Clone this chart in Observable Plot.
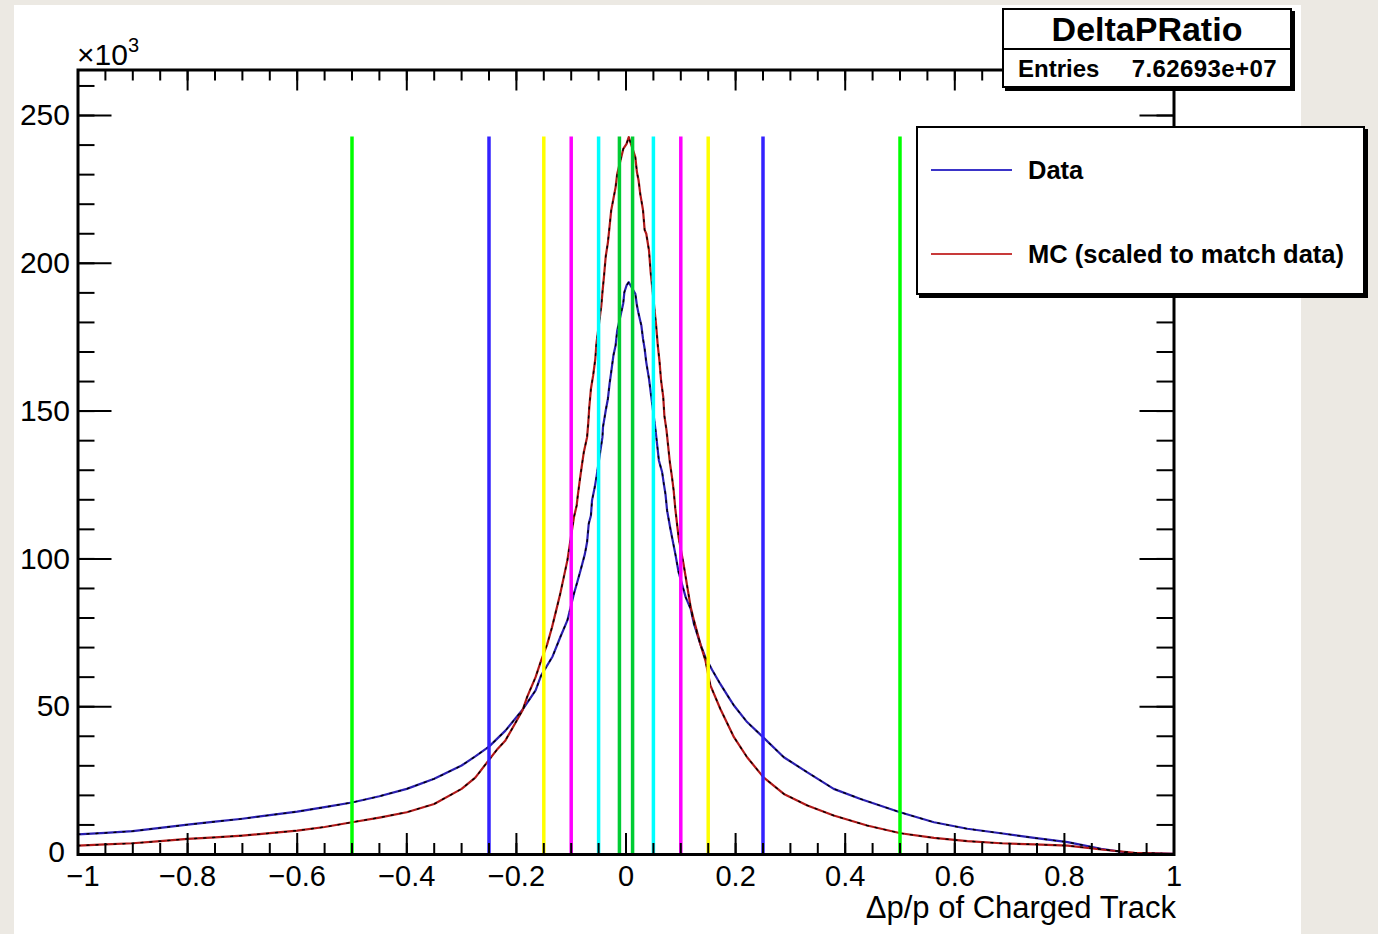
<!DOCTYPE html>
<html><head><meta charset="utf-8">
<script src="https://cdn.jsdelivr.net/npm/d3@7"></script>
<script src="https://cdn.jsdelivr.net/npm/@observablehq/plot@0.6"></script>
<style>
html,body{margin:0;padding:0;overflow:hidden;}
body{width:1378px;height:934px;background:#ece9e3;position:relative;font-family:"Liberation Sans",Arial,sans-serif;color:#000;}
#panel{position:absolute;left:14px;top:5px;width:1287px;height:929px;background:#fff;}
#chart{position:absolute;left:0;top:0;}
#mult{position:absolute;left:77px;top:40px;font-size:30px;line-height:30px;white-space:nowrap;}
#mult span{font-size:20px;position:relative;top:-13px;}
#stats{position:absolute;left:1002px;top:8px;width:286px;height:76px;border:2px solid #000;background:#fff;box-shadow:3px 3px 0 #000;}
#stats .t{height:38px;border-bottom:2px solid #000;font-weight:bold;font-size:34px;line-height:38px;text-align:center;}
#stats .r{height:38px;font-weight:bold;font-size:24px;line-height:38px;position:relative;}
#stats .r .a{position:absolute;left:14px;}
#stats .r .b{position:absolute;right:13px;letter-spacing:0.4px;}
#legend{position:absolute;left:916px;top:126px;width:445px;height:165px;border:2px solid #000;background:#fff;box-shadow:3px 3px 0 #000;}
#legend .e{position:absolute;left:0;height:30px;width:440px;}
#legend .e .l{position:absolute;left:13px;top:14px;width:81px;height:2px;}
#legend .e .x{position:absolute;left:110px;top:0;font-weight:bold;font-size:25.5px;line-height:30px;white-space:nowrap;}
</style></head><body>
<div id="panel"></div>
<div id="chart"></div>
<div id="mult">×10<span>3</span></div>
<div id="stats"><div class="t">DeltaPRatio</div><div class="r"><span class="a">Entries</span><span class="b">7.62693e+07</span></div></div>
<div id="legend"></div>
<script>
// ---- Data (Δp/p, counts in units of 10^3) ----
const dataX = [-1.0,-0.95,-0.9,-0.85,-0.8,-0.75,-0.7,-0.65,-0.6,-0.55,-0.5,-0.45,-0.4,-0.35,-0.3,-0.275,-0.25,-0.22,-0.19,-0.165,-0.155,-0.134,-0.12,-0.107,-0.095,-0.089,-0.083,-0.075,-0.071,-0.068,-0.064,-0.062,-0.057,-0.054,-0.043,-0.042,-0.037,-0.033,-0.03,-0.027,-0.023,-0.019,-0.016,-0.005,-0.003,0.001,0.005,0.017,0.02,0.023,0.028,0.031,0.034,0.037,0.042,0.045,0.054,0.057,0.06,0.066,0.069,0.072,0.075,0.081,0.084,0.09,0.096,0.109,0.118,0.124,0.136,0.145,0.157,0.172,0.188,0.197,0.221,0.25,0.288,0.331,0.379,0.428,0.5,0.562,0.623,0.684,0.745,0.806,0.867,0.916,1.0];
const dataY = [6.8,7.3,7.9,9.0,10.1,11.1,12.1,13.3,14.5,16.0,17.6,19.7,22.2,25.6,30.1,33.2,36.5,41.9,48.7,55.5,60.5,67.0,73.5,79.2,88.2,92.1,96.1,101.7,105.7,111.9,114.7,119.8,124.3,127.6,141.2,144.6,150.2,154.2,159.2,163.2,168.8,172.2,177.3,186.5,190.2,192.5,193.6,189.7,185.7,182.9,179.0,174.5,171.1,166.5,160.9,156.5,143.4,138.4,133.3,129.3,125.4,122.0,116.4,110.2,107.3,101.7,95.5,87.0,83.1,78.0,71.0,66.7,62.5,57.7,53.0,50.4,44.8,39.7,32.9,27.8,22.2,18.8,14.3,10.9,8.7,7.2,5.6,4.2,1.9,0.6,0.2];
const mcX = [-1.0,-0.95,-0.9,-0.85,-0.8,-0.75,-0.7,-0.65,-0.6,-0.55,-0.5,-0.45,-0.4,-0.35,-0.3,-0.275,-0.25,-0.234,-0.22,-0.189,-0.18,-0.165,-0.155,-0.144,-0.135,-0.129,-0.12,-0.107,-0.095,-0.09,-0.088,-0.084,-0.081,-0.077,-0.071,-0.069,-0.067,-0.064,-0.06,-0.056,-0.054,-0.045,-0.043,-0.04,-0.037,-0.033,-0.03,-0.027,-0.023,-0.019,-0.016,-0.005,0.001,0.005,0.017,0.02,0.023,0.026,0.031,0.034,0.037,0.042,0.045,0.055,0.058,0.061,0.064,0.068,0.07,0.074,0.08,0.084,0.087,0.09,0.096,0.105,0.112,0.118,0.124,0.136,0.145,0.154,0.172,0.197,0.221,0.251,0.288,0.331,0.379,0.44,0.501,0.562,0.623,0.684,0.745,0.806,0.867,0.928,1.0];
const mcY = [3.0,3.4,3.8,4.5,5.3,5.8,6.4,7.2,8.1,9.3,10.9,12.5,14.3,17.1,22.2,26.0,32.0,35.8,38.6,48.7,53.5,60.0,65.6,71.0,76.9,81.4,88.2,99.5,114.1,118.1,121.4,127.1,131.0,136.1,141.2,145.7,151.3,157.5,162.0,167.7,172.8,185.7,190.2,195.9,202.3,207.1,212.4,217.9,221.8,225.7,230.3,238.7,240.4,242.7,235.9,230.8,228.0,223.5,218.1,211.3,210.0,204.3,197.0,179.0,172.2,167.1,160.4,154.7,148.5,143.4,132.7,127.6,123.1,116.9,107.3,98.3,90.4,83.7,79.2,71.0,65.6,57.2,49.3,39.7,32.9,26.1,20.5,16.6,13.2,9.8,7.2,5.6,4.5,3.8,3.4,3.0,1.7,0.6,0.2];
const cutX = [-0.5,-0.25,-0.15,-0.1,-0.05,-0.012,0.012,0.05,0.1,0.15,0.25,0.5];
const cutColor = ["#00ff00","#3322ff","#ffff00","#ff00ff","#00ffff","#00cc33","#00cc33","#00ffff","#ff00ff","#ffff00","#3322ff","#00ff00"];
const seriesNames = ["Data","MC (scaled to match data)"];
const seriesColors = ["#2a1fb0","#b01818"];
const legendColors = ["#3a34c8","#c83a3a"];
const xMajor = [-1,-0.8,-0.6,-0.4,-0.2,0,0.2,0.4,0.6,0.8,1];
const yMajor = [0,50,100,150,200,250];
const yMax = 265.4;

const dataRows = dataX.map((x,i)=>({x, y:dataY[i]}));
const mcRows = mcX.map((x,i)=>({x, y:mcY[i]}));
const cuts = cutX.map((x,i)=>({x, c:cutColor[i]}));
const cutTop = d3.max(mcY);
const xMinor = d3.ticks(-1, 1, 40);
const yMinor = d3.range(0, yMax, 10);

const W = 1378, H = 934;
const mL = 77.5, mR = W - 1173.5, mT = 69.5, mB = H - 854;
const iW = W - mL - mR, iH = H - mT - mB;
const fmt = d => (d < 0 ? "\u2212" : "") + Math.abs(d);

const chart = Plot.plot({
  width: W, height: H,
  marginLeft: mL, marginRight: mR, marginTop: mT, marginBottom: mB,
  style: {background: "transparent", fontFamily: "Liberation Sans, Arial, sans-serif", fontSize: "30px", color: "#000", overflow: "visible"},
  x: {domain: [-1, 1]},
  y: {domain: [0, yMax]},
  marks: [
    Plot.line(dataRows, {x: "x", y: "y", stroke: seriesColors[0], strokeWidth: 2.2}),
    Plot.line(mcRows, {x: "x", y: "y", stroke: seriesColors[1], strokeWidth: 2.2}),
    Plot.line(dataRows, {x: "x", y: "y", stroke: "#000", strokeWidth: 1.4, strokeDasharray: "2,7"}),
    Plot.line(mcRows, {x: "x", y: "y", stroke: "#000", strokeWidth: 1.4, strokeDasharray: "2,7"}),
    Plot.ruleX(cuts, {x: "x", y1: 0, y2: cutTop, stroke: "c", strokeWidth: 3.5}),
    Plot.tickX(xMinor, {x: d => d, insetTop: iH - 11, strokeWidth: 2}),
    Plot.tickX(xMinor, {x: d => d, insetBottom: iH - 11, strokeWidth: 2}),
    Plot.tickX(xMajor, {x: d => d, insetTop: iH - 21, strokeWidth: 2}),
    Plot.tickX(xMajor, {x: d => d, insetBottom: iH - 21, strokeWidth: 2}),
    Plot.tickY(yMinor, {y: d => d, insetRight: iW - 17, strokeWidth: 2}),
    Plot.tickY(yMinor, {y: d => d, insetLeft: iW - 17, strokeWidth: 2}),
    Plot.tickY(yMajor, {y: d => d, insetRight: iW - 34, strokeWidth: 2}),
    Plot.tickY(yMajor, {y: d => d, insetLeft: iW - 34, strokeWidth: 2}),
    Plot.frame({stroke: "#000", strokeWidth: 3}),
    Plot.axisX(xMajor.slice(1), {tickSize: 0, tickPadding: 11, tickFormat: fmt, fontSize: 29, label: null}),
    Plot.axisX(xMajor.slice(0, 1), {tickSize: 0, tickPadding: 11, dx: 5, tickFormat: fmt, fontSize: 29, label: null}),
    Plot.axisY(yMajor.slice(1), {tickSize: 0, tickPadding: 8, tickFormat: d => String(d), fontSize: 30, label: null}),
    Plot.axisY(yMajor.slice(0, 1), {tickSize: 0, tickPadding: 13, dy: -2, tickFormat: d => String(d), fontSize: 30, label: null}),
    Plot.text(["\u0394p/p of Charged Track"], {frameAnchor: "bottom-right", dx: 2, dy: 63, textAnchor: "end", lineAnchor: "bottom", fontSize: 31})
  ]
});
document.getElementById("chart").appendChild(chart);

const legend = document.getElementById("legend");
seriesNames.forEach((name, i) => {
  const e = document.createElement("div");
  e.className = "e";
  e.style.top = (i === 0 ? 27 : 111) + "px";
  e.innerHTML = `<div class="l" style="background:${legendColors[i]}"></div><div class="x">${name}</div>`;
  legend.appendChild(e);
});
</script>
</body></html>
